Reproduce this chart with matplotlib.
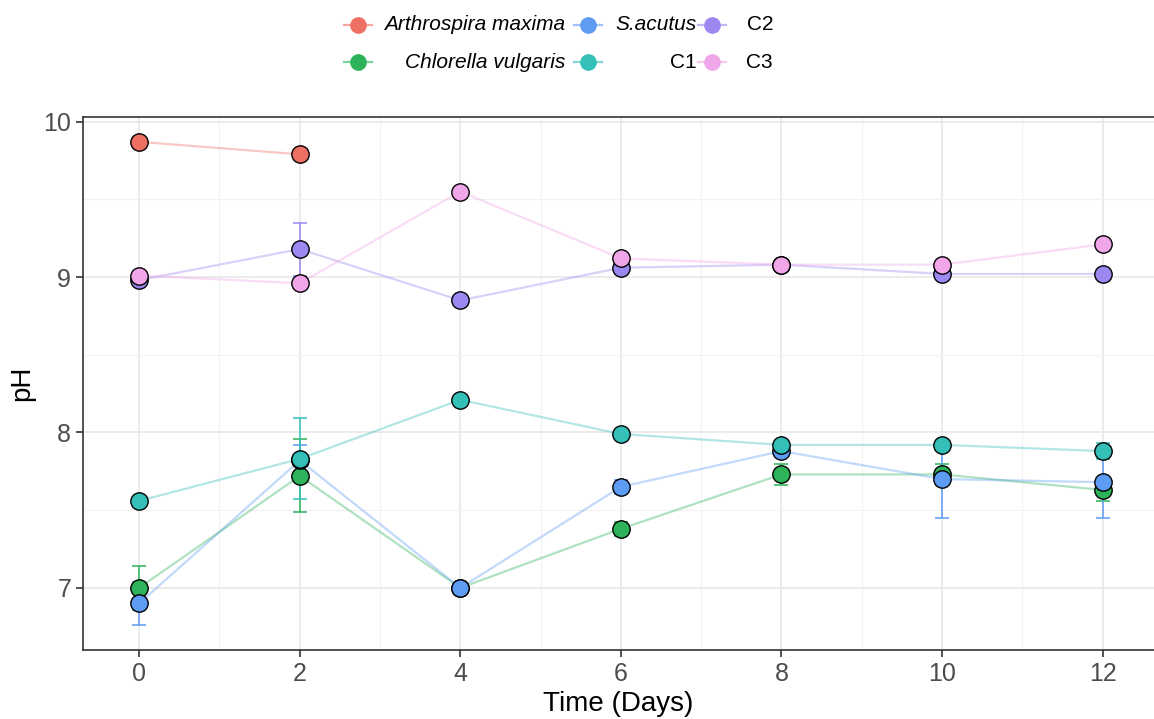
import numpy as np
import matplotlib
matplotlib.use("Agg")
import matplotlib.pyplot as plt
from matplotlib.lines import Line2D

plt.rcParams['font.family'] = ['Liberation Sans', 'DejaVu Sans']

days = [0, 2, 4, 6, 8, 10, 12]

# series: name -> (days, mean pH, sd)
arthro_days = [0, 2]
arthro_ph = [9.87, 9.79]
arthro_sd = [0.0, 0.0]

chlorella_ph = [7.00, 7.72, 7.00, 7.38, 7.73, 7.73, 7.63]
chlorella_sd = [0.14, 0.235, 0.0, 0.045, 0.07, 0.07, 0.07]

sacutus_ph = [6.90, 7.82, 7.00, 7.65, 7.88, 7.70, 7.68]
sacutus_sd = [0.14, 0.10, 0.0, 0.045, 0.0, 0.25, 0.23]

c1_ph = [7.56, 7.83, 8.21, 7.99, 7.92, 7.92, 7.88]
c1_sd = [0.0, 0.26, 0.0, 0.0, 0.0, 0.0, 0.05]

c2_ph = [8.98, 9.18, 8.85, 9.06, 9.08, 9.02, 9.02]
c2_sd = [0.0, 0.17, 0.0, 0.04, 0.0, 0.0, 0.0]

c3_ph = [9.01, 8.96, 9.55, 9.12, 9.08, 9.08, 9.21]
c3_sd = [0.0, 0.0, 0.0, 0.0, 0.0, 0.0, 0.0]

names = ['Arthrospira maxima', 'Chlorella vulgaris', 'S.acutus', 'C1', 'C2', 'C3']
italic = [True, True, True, False, False, False]
colors = ['#EE6F64', '#2DB45A', '#5E9BF2', '#35BFB9', '#9D88F2', '#F0A6E8']
xs = [arthro_days, days, days, days, days, days]
ys = [arthro_ph, chlorella_ph, sacutus_ph, c1_ph, c2_ph, c3_ph]
sds = [arthro_sd, chlorella_sd, sacutus_sd, c1_sd, c2_sd, c3_sd]

fig = plt.figure(figsize=(11.54, 7.19), dpi=100)
ax = fig.add_axes([83 / 1154, 69 / 719, 1 - 83 / 1154, (650 - 117) / 719])

for x, y, sd, c in zip(xs, ys, sds, colors):
    ax.plot(x, y, color=c, alpha=0.38, lw=1.6, zorder=3)
for x, y, sd, c in zip(xs, ys, sds, colors):
    ax.errorbar(x, y, yerr=sd, fmt='none', ecolor=c, elinewidth=1.4,
                capsize=4.7, capthick=1.4, alpha=0.8, zorder=4)
    ax.plot(x, y, 'o', ms=12.5, mfc=c, mec='black', mew=1.0, zorder=5)

ax.set_xlim(-0.7, 12.64)
ax.set_ylim(6.6, 10.03)
ax.set_xticks(range(0, 13, 2))
ax.set_xticks(range(1, 13, 2), minor=True)
ax.set_yticks([7, 8, 9, 10])
ax.set_yticks([7.5, 8.5, 9.5], minor=True)
ax.grid(True, which='major', color='#E8E8E8', lw=1.2, zorder=0)
ax.grid(True, which='minor', color='#F2F2F2', lw=0.8, zorder=0)
ax.tick_params(which='major', labelsize=18, labelcolor='#4D4D4D', color='#333333',
               length=5, width=1.2)
ax.tick_params(which='minor', length=0)
for s in ['left', 'bottom', 'top']:
    ax.spines[s].set_color('#333333')
    ax.spines[s].set_linewidth(1.2)
ax.spines['right'].set_visible(False)
ax.set_xlabel('Time (Days)', fontsize=20, labelpad=4)
ax.set_ylabel('pH', fontsize=20, labelpad=6)

# legend, 2 rows x 3 columns, labels right-aligned
W, H = 1154.0, 719.0
mark_x = [358, 588, 712]
text_right = [565, 697, 773]
row_y = [25, 62]
for i, (n, c, it) in enumerate(zip(names, colors, italic)):
    col, row = i // 2, i % 2
    mx = mark_x[col] / W
    my = 1 - row_y[row] / H
    fig.add_artist(Line2D([mx - 14 / W, mx + 14 / W], [my, my], color=c, lw=1.6,
                          alpha=0.6, transform=fig.transFigure))
    fig.add_artist(Line2D([mx], [my], marker='o', ms=11, color=c, mec=c,
                          transform=fig.transFigure))
    fig.text(text_right[col] / W, my, n, ha='right', va='center', fontsize=15,
             style='italic' if it else 'normal')

fig.savefig('out.png', dpi=100)
